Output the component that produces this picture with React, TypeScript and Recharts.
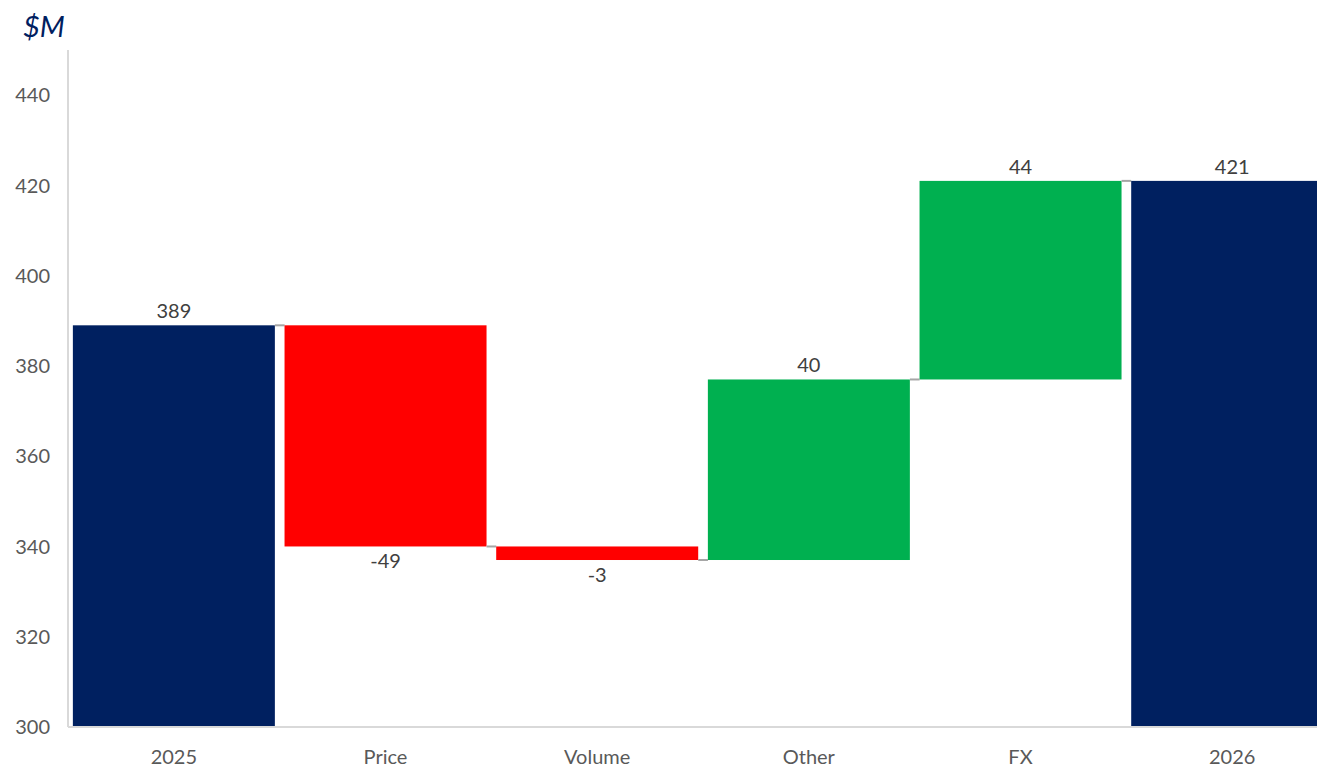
import React from 'react';
import { BarChart, Bar, XAxis, YAxis, Cell, LabelList } from 'recharts';

const categories = ['2025', 'Price', 'Volume', 'Other', 'FX', '2026'];
const steps = [389, -49, -3, 40, 44, 421];
const kinds = ['total', 'delta', 'delta', 'delta', 'delta', 'total'];
const yTicks = [300, 320, 340, 360, 380, 400, 420, 440];

const AXIS_MIN = 300;
const AXIS_MAX = 450;
const GAP_PCT = 0.023;

const NAVY = '#002060';
const RED = '#FF0000';
const GREEN = '#00B050';
const FONT = 'Lato, "Open Sans", sans-serif';

function buildData() {
  let running = 0;
  return categories.map((name, i) => {
    const v = steps[i];
    let range: [number, number];
    if (kinds[i] === 'total') {
      range = [AXIS_MIN, v];
      running = v;
    } else {
      const next = running + v;
      range = [Math.min(running, next), Math.max(running, next)];
      running = next;
    }
    return { name, range, step: v, kind: kinds[i], last: i === categories.length - 1 };
  });
}

const data = buildData();

function colorFor(d: any) {
  if (d.kind === 'total') return NAVY;
  return d.step < 0 ? RED : GREEN;
}

// bar rect plus the small grey connector to the next bar
function WaterfallShape(props: any) {
  const { x, y, width, height, fill, payload } = props;
  const isTotal = payload.kind === 'total';
  const endY = !isTotal && payload.step < 0 ? y + height : y;
  const gap = (width * 2 * GAP_PCT) / (1 - 2 * GAP_PCT);
  return (
    <g>
      <rect x={x} y={y} width={width} height={height + (isTotal ? 3 : 0)} fill={fill} />
      {!payload.last && (
        <line x1={x + width} x2={x + width + gap} y1={endY} y2={endY} stroke="#a6a6a6" strokeWidth={2} />
      )}
    </g>
  );
}

function StepLabel(props: any) {
  const { x, y, width, height, index } = props;
  const v = steps[index];
  const below = kinds[index] !== 'total' && v < 0;
  const ty = below ? y + height + 22 : y - 7;
  return (
    <text x={x + width / 2} y={ty} textAnchor="middle" fill="#404040" fontSize={20} fontFamily={FONT}>
      {v}
    </text>
  );
}

export default function App() {
  return (
    <div style={{ position: 'fixed', left: 0, top: 0, width: 1317, height: 770, overflow: 'hidden', background: '#fff' }}>
      <div
        style={{
          position: 'absolute',
          left: 23,
          top: 8,
          fontFamily: FONT,
          fontStyle: 'italic',
          fontSize: 29,
          color: NAVY,
        }}
      >
        $M
      </div>
      <BarChart
        width={1338}
        height={770}
        data={data}
        margin={{ top: 50, right: 0, left: 0, bottom: 0 }}
        barCategoryGap={`${GAP_PCT * 100}%`}
      >
        <XAxis
          dataKey="name"
          height={43}
          tickLine={false}
          axisLine={{ stroke: '#d9d9d9', strokeWidth: 2 }}
          tick={{ fill: '#595959', fontSize: 20, fontFamily: FONT }}
          tickMargin={17}
          interval={0}
        />
        <YAxis
          type="number"
          domain={[AXIS_MIN, AXIS_MAX]}
          ticks={yTicks}
          width={68}
          tickLine={false}
          axisLine={{ stroke: '#d9d9d9', strokeWidth: 2 }}
          tick={{ fill: '#595959', fontSize: 20, fontFamily: FONT }}
          tickMargin={12}
          allowDataOverflow
        />
        <Bar dataKey="range" isAnimationActive={false} shape={<WaterfallShape />}>
          {data.map((d, i) => (
            <Cell key={i} fill={colorFor(d)} />
          ))}
          <LabelList dataKey="step" content={<StepLabel />} />
        </Bar>
      </BarChart>
    </div>
  );
}
